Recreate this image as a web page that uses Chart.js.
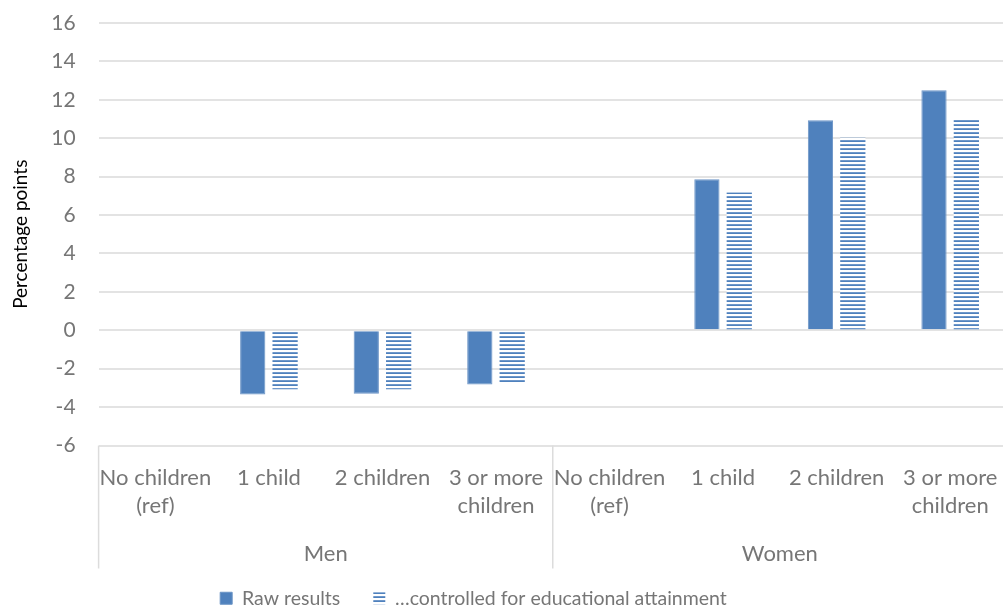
<!DOCTYPE html>
<html>
<head>
<meta charset="utf-8">
<script src="https://cdn.jsdelivr.net/npm/chart.js@4"></script>
<style>
  html, body { margin: 0; padding: 0; background: #ffffff; overflow: hidden; }
  #wrap { width: 1015px; height: 612px; position: relative; }
</style>
</head>
<body>
<div id="wrap"><canvas id="grafica"></canvas></div>
<script>
// categorias del eje y grupos
const categories = [
    ["No children", "(ref)"], "1 child", "2 children", ["3 or more", "children"],
    ["No children", "(ref)"], "1 child", "2 children", ["3 or more", "children"]
];
const groups = ["Men", "Women"];

// valores (puntos porcentuales)
const rawResults = [null, -3.35, -3.3, -2.82, null, 7.86, 10.93, 12.5];
const controlledResults = [null, -3.07, -3.07, -2.75, null, 7.18, 10.02, 11.03];

const seriesNames = ["Raw results", "\u2026controlled for educational attainment"];

const yMin = -6;
const yMax = 16;
const yStep = 2;

const blue = "#4f81bd";
const textColor = "#767676";
const gridColor = "#e3e3e3";
const fontFamily = "Lato, 'Open Sans', sans-serif";

// rayas horizontales para la segunda serie
function stripePattern() {
    const c = document.createElement("canvas");
    c.width = 4;
    c.height = 4;
    const g = c.getContext("2d");
    g.fillStyle = "#ffffff";
    g.fillRect(0, 0, 4, 4);
    g.fillStyle = "#6f98ca";
    g.fillRect(0, 0, 4, 1);
    g.fillStyle = blue;
    g.fillRect(0, 1, 4, 1);
    return g.createPattern(c, "repeat");
}

// lineas verticales que separan los grupos bajo el eje
const groupLines = {
    id: "groupLines",
    afterDraw(chart) {
        const ctx = chart.ctx;
        const x = chart.scales.x;
        const x2 = chart.scales.x2;
        const area = chart.chartArea;
        const half = categories.length / 2;
        const xs = [
            area.left,
            (x.getPixelForValue(half - 1) + x.getPixelForValue(half)) / 2,
            area.right
        ];
        ctx.save();
        ctx.strokeStyle = "#dcdcdc";
        ctx.lineWidth = 1.5;
        xs.forEach(px => {
            ctx.beginPath();
            ctx.moveTo(px, area.bottom);
            ctx.lineTo(px, x2.bottom);
            ctx.stroke();
        });
        ctx.restore();
    }
};

// mover la leyenda (centrada como en el original)
const legendShift = {
    id: "legendShift",
    afterLayout(chart) {
        const lg = chart.legend;
        lg.left -= 34;
        lg.right -= 34;
        lg.top -= 13;
        lg.bottom -= 13;
    }
};

document.addEventListener("DOMContentLoaded", function() {
    const ctx = document.getElementById("grafica").getContext("2d");

    new Chart(ctx, {
        type: "bar",
        data: {
            labels: categories,
            datasets: [
                {
                    label: seriesNames[0],
                    data: rawResults,
                    backgroundColor: blue,
                    borderColor: "#6b94c6",
                    borderWidth: 1,
                    categoryPercentage: 0.57,
                    barPercentage: 0.78
                },
                {
                    label: seriesNames[1],
                    data: controlledResults,
                    backgroundColor: stripePattern(),
                    borderWidth: 0,
                    categoryPercentage: 0.57,
                    barPercentage: 0.78
                }
            ]
        },
        options: {
            responsive: true,
            maintainAspectRatio: false,
            animation: false,
            layout: { padding: { top: 23, left: 0, right: 0, bottom: -19 } },
            plugins: {
                legend: {
                    position: "bottom",
                    labels: {
                        color: textColor,
                        font: { family: fontFamily, size: 19.5 },
                        boxWidth: 12,
                        boxHeight: 12,
                        padding: 33
                    }
                },
                tooltip: { enabled: false }
            },
            scales: {
                y: {
                    min: yMin,
                    max: yMax,
                    ticks: {
                        stepSize: yStep,
                        color: textColor,
                        font: { family: fontFamily, size: 21 },
                        padding: 0
                    },
                    grid: {
                        color: gridColor,
                        lineWidth: 2,
                        drawTicks: true,
                        tickLength: 23,
                        tickColor: "rgba(0,0,0,0)"
                    },
                    border: { display: false },
                    title: {
                        display: true,
                        text: "Percentage points",
                        color: "#000000",
                        font: { family: fontFamily, size: 19 },
                        padding: { top: 9, bottom: 0 }
                    },
                    afterFit(scale) { scale.width = 98.6; }
                },
                x: {
                    ticks: {
                        color: textColor,
                        font: { family: fontFamily, size: 22, lineHeight: 1.3 },
                        padding: 17.7,
                        autoSkip: false,
                        maxRotation: 0,
                        minRotation: 0
                    },
                    grid: { display: false, drawTicks: false },
                    border: { display: false },
                    afterFit(scale) { scale.height = 76; }
                },
                x2: {
                    type: "category",
                    position: "bottom",
                    labels: groups,
                    offset: true,
                    ticks: {
                        color: textColor,
                        font: { family: fontFamily, size: 22, lineHeight: 1.3 },
                        padding: 17.7
                    },
                    grid: { display: false, drawTicks: false },
                    border: { display: false },
                    afterFit(scale) { scale.height = 47; }
                }
            }
        },
        plugins: [groupLines, legendShift]
    });
});
</script>
</body>
</html>
